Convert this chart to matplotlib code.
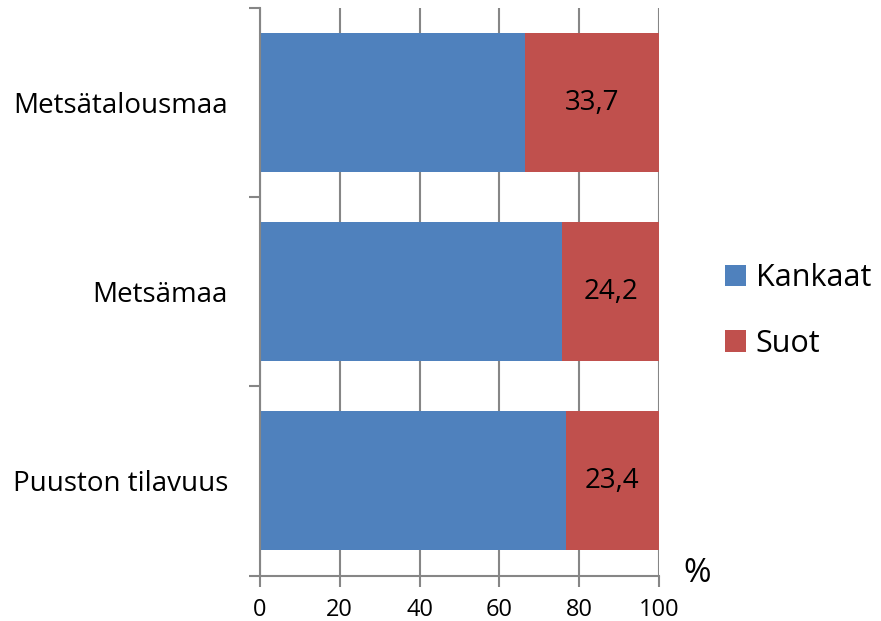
import matplotlib
matplotlib.use("Agg")
import matplotlib.pyplot as plt
from matplotlib.patches import Patch

categories = ["Metsätalousmaa", "Metsämaa", "Puuston tilavuus"]
kankaat = [66.3, 75.8, 76.6]
suot = [33.7, 24.2, 23.4]
series_names = ["Kankaat", "Suot"]
x_ticks = [0, 20, 40, 60, 80, 100]

BLUE = "#4F81BD"
RED = "#C0504D"
GRID = "#868686"

plt.rcParams["font.family"] = ["Open Sans", "DejaVu Sans"]

fig = plt.figure(figsize=(8.81, 6.21), dpi=100)
W, H = 881, 621
ax = fig.add_axes([260 / W, 1 - 575.5 / H, (659 - 260) / W, (575.5 - 8) / H])

ypos = list(range(len(categories)))
bar_h = 0.735
ax.barh(ypos, kankaat, height=bar_h, color=BLUE, zorder=3)
ax.barh(ypos, suot, left=kankaat, height=bar_h, color=RED, zorder=3)

for y, k, s in zip(ypos, kankaat, suot):
    ax.text(k + s / 2, y, f"{s:.1f}".replace(".", ","), ha="center", va="center",
            fontsize=20, color="black", zorder=4)

ax.set_xlim(0, 100)
ax.set_ylim(len(categories) - 0.5, -0.5)
ax.set_xticks(x_ticks)
ax.set_xticklabels([str(v) for v in x_ticks], fontsize=17)
ax.xaxis.grid(True, color=GRID, linewidth=1.5, zorder=1)
ax.tick_params(axis="x", length=8, width=1.5, color=GRID, pad=8)

ax.set_yticks(ypos)
ax.set_yticklabels(categories, fontsize=20)
ax.tick_params(axis="y", which="major", length=0, pad=23)
ax.set_yticks([-0.5, 0.5, 1.5, 2.5], minor=True)
ax.tick_params(axis="y", which="minor", length=8, width=1.5, color=GRID)

for side in ["top", "right"]:
    ax.spines[side].set_visible(False)
for side in ["left", "bottom"]:
    ax.spines[side].set_color(GRID)
    ax.spines[side].set_linewidth(1.5)
    ax.spines[side].set_zorder(5)
ax.spines["bottom"].set_bounds(0, 100)

fig.text(697 / W, 1 - 574 / H, "%", fontsize=24, ha="center", va="center")

handles = [Patch(facecolor=BLUE), Patch(facecolor=RED)]
fig.legend(handles, series_names, loc="center left", bbox_to_anchor=(725 / W, 1 - 311 / H),
           frameon=False, fontsize=22, handlelength=0.7, handleheight=0.7,
           handletextpad=0.3, labelspacing=1.15, borderpad=0, borderaxespad=0)

fig.savefig("out.png", dpi=100)
